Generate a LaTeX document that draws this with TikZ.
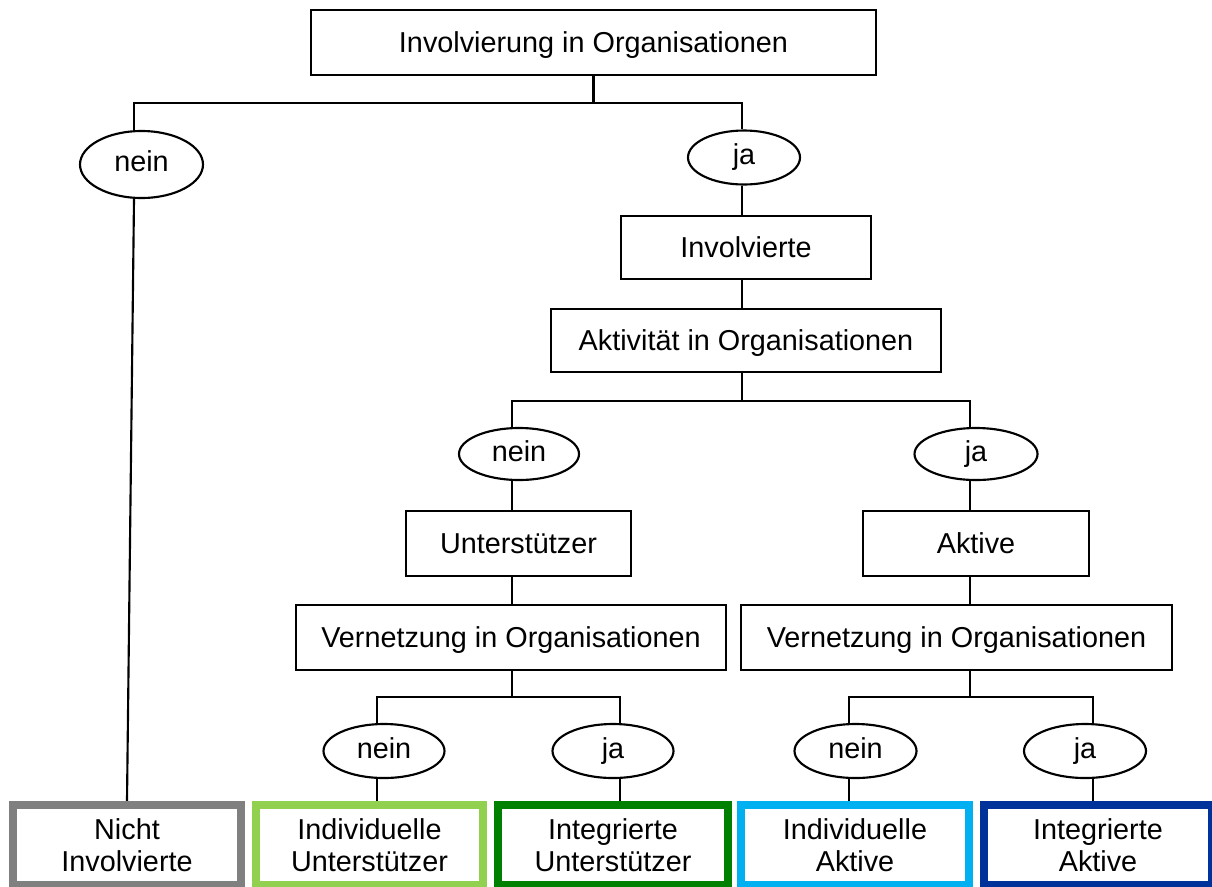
\documentclass[tikz,border=0pt]{standalone}
\usepackage{fontspec}
\setmainfont{Liberation Sans}
\usetikzlibrary{shapes.geometric,backgrounds}
\definecolor{cgray}{RGB}{128,128,128}
\definecolor{clgreen}{RGB}{146,208,80}
\definecolor{cdgreen}{RGB}{0,128,0}
\definecolor{clblue}{RGB}{0,176,240}
\definecolor{cdblue}{RGB}{0,51,153}
\begin{document}
\begin{tikzpicture}[x=0.75pt,y=-0.75pt,
  every node/.style={font=\fontsize{21.6}{24}\selectfont},
  sz/.style 2 args={minimum width=#1*0.75pt, minimum height=#2*0.75pt},
  box/.style={draw,line width=1.6pt,inner sep=0pt,fill=white,align=center,text height=15.5pt,text depth=0pt},
  oval/.style={ellipse,draw,line width=1.6pt,inner sep=0pt,fill=white,text height=11.2pt,text depth=0pt},
  final/.style={draw=#1,line width=6pt,inner sep=0pt,fill=white,align=center},
  conn/.style={line width=1.6pt}]
\useasboundingbox (0,0) rectangle (1212,886);

\node[box,sz={565}{65}] (top) at (593.5,42.5) {Involvierung in Organisationen};
\node[oval,sz={123}{67}] (nein1) at (141.5,164.5) {nein};
\node[oval,sz={112}{54}] (ja1) at (744,157.5) {ja};
\node[box,sz={250}{63}] (inv) at (746,247.5) {Involvierte};
\node[box,sz={390}{63}] (akt) at (746,340.5) {Aktivität in Organisationen};
\node[oval,sz={120}{52}] (nein2) at (519,454) {nein};
\node[oval,sz={123}{52}] (ja2) at (976,454) {ja};
\node[box,sz={225}{65}] (unt) at (518.5,543.5) {Unterstützer};
\node[box,sz={226}{65}] (aktv) at (976,543.5) {Aktive};
\node[box,sz={430}{65}] (vl) at (511,637.5) {Vernetzung in Organisationen};
\node[box,sz={431}{65}] (vr) at (956.5,637.5) {Vernetzung in Organisationen};
\node[oval,sz={121}{54}] (nein3) at (384,751) {nein};
\node[oval,sz={121}{54}] (ja3) at (613,751) {ja};
\node[oval,sz={122}{54}] (nein4) at (855.5,751) {nein};
\node[oval,sz={122}{54}] (ja4) at (1085,751) {ja};

\node[final=cgray,sz={228}{80}] (fin1) at (127,845) {Nicht\\Involvierte};
\node[final=clgreen,sz={227}{80}] (fin2) at (369.5,845) {Individuelle\\Unterstützer};
\node[final=cdgreen,sz={230}{80}] (fin3) at (613,845) {Integrierte\\Unterstützer};
\node[final=clblue,sz={228}{80}] (fin4) at (855,845) {Individuelle\\Aktive};
\node[final=cdblue,sz={228}{80}] (fin5) at (1098,845) {Integrierte\\Aktive};

\begin{scope}[on background layer]
\fill[white] (0,0) rectangle (1212,886);
\coordinate (b1l) at (134,103);
\coordinate (b1r) at (742,103);
\coordinate (b2l) at (512,401);
\coordinate (b2r) at (970,401);
\coordinate (b3l) at (377,697);
\coordinate (b3r) at (620,697);
\coordinate (b4l) at (849,697);
\coordinate (b4r) at (1093,697);
\draw[conn] (top.south) |- (b1l) -- (b1l |- nein1.north);
\draw[conn] (top.south) |- (b1r) -- (b1r |- ja1.north);
\draw[conn] (b1l |- nein1.south) -- (fin1.north);
\draw[conn] (b1r |- ja1.south) -- (b1r |- inv.north);
\draw[conn] (b1r |- inv.south) -- (b1r |- akt.north);
\draw[conn] (b1r |- akt.south) |- (b2l) -- (b2l |- nein2.north);
\draw[conn] (b1r |- akt.south) |- (b2r) -- (b2r |- ja2.north);
\draw[conn] (b2l |- nein2.south) -- (b2l |- unt.north);
\draw[conn] (b2r |- ja2.south) -- (b2r |- aktv.north);
\draw[conn] (b2l |- unt.south) -- (b2l |- vl.north);
\draw[conn] (b2r |- aktv.south) -- (b2r |- vr.north);
\draw[conn] (b2l |- vl.south) |- (b3l) -- (b3l |- nein3.north);
\draw[conn] (b2l |- vl.south) |- (b3r) -- (b3r |- ja3.north);
\draw[conn] (b2r |- vr.south) |- (b4l) -- (b4l |- nein4.north);
\draw[conn] (b2r |- vr.south) |- (b4r) -- (b4r |- ja4.north);
\draw[conn] (b3l |- nein3.south) -- (b3l |- fin2.north);
\draw[conn] (b3r |- ja3.south) -- (b3r |- fin3.north);
\draw[conn] (b4l |- nein4.south) -- (b4l |- fin4.north);
\draw[conn] (b4r |- ja4.south) -- (b4r |- fin5.north);
\end{scope}
\end{tikzpicture}
\end{document}
